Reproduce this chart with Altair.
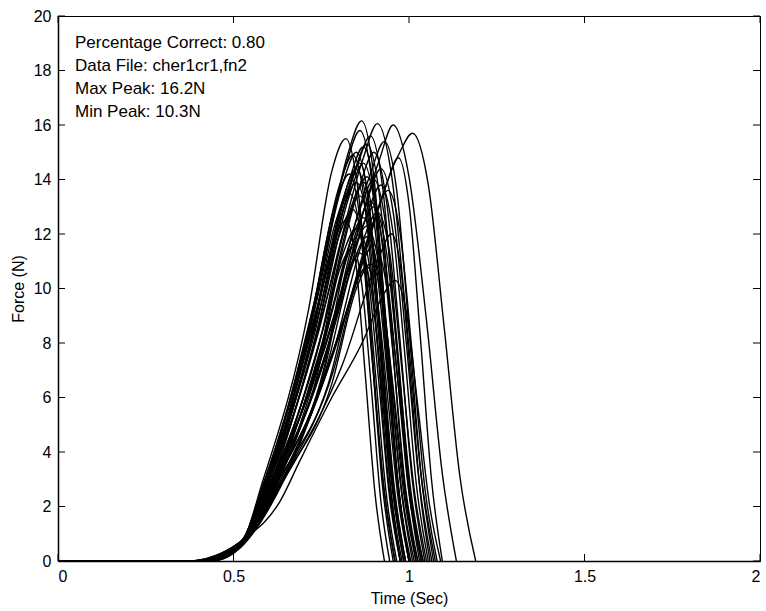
import altair as alt
import pandas as pd

# ---- text / axis content ----
X_TICKS = [0, 0.5, 1, 1.5, 2]
Y_TICKS = [0, 2, 4, 6, 8, 10, 12, 14, 16, 18, 20]
X_TITLE = "Time (Sec)"
Y_TITLE = "Force (N)"
INFO_LINES = [
    "Percentage Correct: 0.80",
    "Data File: cher1cr1,fn2",
    "Max Peak: 16.2N",
    "Min Peak: 10.3N",
]

# ---- force traces: (time s, force N) ----
trace_01 = [(0, 0), (0.40, 0), (0.52, 0.65), (0.585, 3.0), (0.715, 9.3), (0.78, 14.3), (0.82, 15.5), (0.855, 13.6), (0.89, 8.5), (0.925, 3.1), (0.96, 0)]
trace_02 = [(0, 0), (0.38, 0), (0.52, 0.6), (0.60, 3.0), (0.74, 9.7), (0.825, 14.9), (0.865, 16.15), (0.899, 14.2), (0.933, 8.9), (0.966, 3.2), (1.0, 0)]
trace_03 = [(0, 0), (0.40, 0), (0.52, 0.6), (0.61, 3.0), (0.765, 9.6), (0.87, 14.8), (0.91, 16.05), (0.951, 14.1), (0.993, 8.8), (1.034, 3.2), (1.075, 0)]
trace_04 = [(0, 0), (0.42, 0), (0.52, 0.6), (0.63, 3.0), (0.80, 9.6), (0.915, 14.7), (0.955, 16.0), (1.0, 14.1), (1.05, 8.8), (1.095, 3.2), (1.135, 0)]
trace_05 = [(0, 0), (0.43, 0), (0.52, 0.55), (0.64, 3.0), (0.83, 9.4), (0.97, 14.9), (1.01, 15.7), (1.055, 13.8), (1.10, 8.6), (1.145, 3.1), (1.19, 0)]
trace_06 = [(0, 0), (0.39, 0), (0.52, 0.65), (0.595, 3.0), (0.73, 9.5), (0.82, 14.5), (0.86, 15.8), (0.895, 13.9), (0.93, 8.7), (0.965, 3.2), (1.0, 0)]
trace_07 = [(0, 0), (0.41, 0), (0.52, 0.6), (0.605, 3.0), (0.745, 9.2), (0.84, 14.1), (0.88, 15.3), (0.915, 13.5), (0.95, 8.4), (0.985, 3.1), (1.02, 0)]
trace_08 = [(0, 0), (0.37, 0), (0.52, 0.7), (0.59, 3.0), (0.72, 8.9), (0.80, 13.7), (0.84, 14.9), (0.874, 13.1), (0.908, 8.2), (0.941, 3.0), (0.975, 0)]
trace_09 = [(0, 0), (0.40, 0), (0.52, 0.65), (0.61, 3.0), (0.745, 8.8), (0.83, 13.4), (0.87, 14.6), (0.905, 12.8), (0.94, 8.0), (0.975, 2.9), (1.01, 0)]
trace_10 = [(0, 0), (0.42, 0), (0.52, 0.6), (0.62, 3.0), (0.765, 9.0), (0.86, 13.8), (0.90, 15.0), (0.936, 13.2), (0.973, 8.3), (1.009, 3.0), (1.045, 0)]
trace_11 = [(0, 0), (0.38, 0), (0.52, 0.7), (0.59, 3.0), (0.715, 8.5), (0.79, 13.1), (0.83, 14.2), (0.861, 12.5), (0.893, 7.8), (0.924, 2.8), (0.955, 0)]
trace_12 = [(0, 0), (0.40, 0), (0.52, 0.65), (0.60, 3.0), (0.73, 8.3), (0.81, 12.8), (0.85, 13.9), (0.884, 12.2), (0.918, 7.6), (0.951, 2.8), (0.985, 0)]
trace_13 = [(0, 0), (0.41, 0), (0.52, 0.6), (0.615, 3.0), (0.755, 8.5), (0.84, 13.0), (0.88, 14.1), (0.916, 12.4), (0.953, 7.8), (0.989, 2.8), (1.025, 0)]
trace_14 = [(0, 0), (0.43, 0), (0.52, 0.55), (0.63, 3.0), (0.785, 8.6), (0.88, 13.2), (0.92, 14.4), (0.956, 12.7), (0.993, 7.9), (1.029, 2.9), (1.065, 0)]
trace_15 = [(0, 0), (0.39, 0), (0.52, 0.65), (0.61, 3.0), (0.745, 8.0), (0.82, 12.3), (0.86, 13.4), (0.893, 11.8), (0.925, 7.4), (0.958, 2.7), (0.99, 0)]
trace_16 = [(0, 0), (0.42, 0), (0.52, 0.6), (0.625, 3.0), (0.77, 7.9), (0.85, 12.1), (0.89, 13.2), (0.926, 11.6), (0.963, 7.3), (0.999, 2.6), (1.035, 0)]
trace_17 = [(0, 0), (0.38, 0), (0.52, 0.7), (0.60, 3.0), (0.725, 7.7), (0.80, 11.9), (0.84, 12.9), (0.871, 11.4), (0.903, 7.1), (0.934, 2.6), (0.965, 0)]
trace_18 = [(0, 0), (0.40, 0), (0.52, 0.65), (0.615, 3.0), (0.75, 7.6), (0.83, 11.6), (0.87, 12.6), (0.904, 11.1), (0.938, 6.9), (0.971, 2.5), (1.005, 0)]
trace_19 = [(0, 0), (0.43, 0), (0.52, 0.55), (0.635, 3.0), (0.785, 7.7), (0.87, 11.8), (0.91, 12.8), (0.945, 11.3), (0.98, 7.0), (1.015, 2.6), (1.05, 0)]
trace_20 = [(0, 0), (0.39, 0), (0.52, 0.65), (0.61, 3.0), (0.74, 7.3), (0.81, 11.2), (0.85, 12.2), (0.881, 10.7), (0.913, 6.7), (0.944, 2.4), (0.975, 0)]
trace_21 = [(0, 0), (0.41, 0), (0.52, 0.6), (0.625, 3.0), (0.765, 7.1), (0.84, 10.9), (0.88, 11.9), (0.914, 10.5), (0.948, 6.5), (0.981, 2.4), (1.015, 0)]
trace_22 = [(0, 0), (0.42, 0), (0.52, 0.6), (0.64, 3.0), (0.785, 7.0), (0.86, 10.7), (0.90, 11.6), (0.935, 10.2), (0.97, 6.4), (1.005, 2.3), (1.04, 0)]
trace_23 = [(0, 0), (0.40, 0), (0.52, 0.65), (0.62, 3.0), (0.755, 6.8), (0.82, 10.4), (0.86, 11.3), (0.893, 9.9), (0.925, 6.2), (0.958, 2.3), (0.99, 0)]
trace_24 = [(0, 0), (0.41, 0), (0.52, 0.6), (0.64, 3.0), (0.78, 6.5), (0.85, 10.0), (0.89, 10.9), (0.924, 9.6), (0.958, 6.0), (0.991, 2.2), (1.025, 0)]
trace_25 = [(0, 0), (0.42, 0), (0.528, 0.77), (0.633, 2.2), (0.69, 3.7), (0.776, 5.9), (0.87, 8.1), (0.92, 9.6), (0.96, 10.3), (0.993, 9.1), (1.025, 5.7), (1.058, 2.1), (1.09, 0)]
trace_26 = [(0, 0), (0.43, 0), (0.52, 0.55), (0.64, 3.0), (0.80, 8.2), (0.90, 12.5), (0.94, 13.6), (0.975, 12.0), (1.01, 7.5), (1.045, 2.7), (1.08, 0)]
trace_27 = [(0, 0), (0.44, 0), (0.52, 0.5), (0.645, 3.0), (0.815, 8.9), (0.93, 13.6), (0.97, 14.8), (1.001, 13.0), (1.033, 8.1), (1.064, 3.0), (1.095, 0)]
trace_28 = [(0, 0), (0.42, 0), (0.52, 0.55), (0.625, 3.0), (0.78, 9.2), (0.89, 14.2), (0.93, 15.4), (0.965, 13.6), (1.0, 8.5), (1.035, 3.1), (1.07, 0)]
trace_29 = [(0, 0), (0.38, 0), (0.52, 0.7), (0.595, 3.0), (0.72, 8.1), (0.79, 12.4), (0.83, 13.5), (0.863, 11.9), (0.895, 7.4), (0.928, 2.7), (0.96, 0)]
trace_30 = [(0, 0), (0.40, 0), (0.52, 0.65), (0.605, 3.0), (0.74, 8.3), (0.83, 12.8), (0.87, 13.9), (0.903, 12.2), (0.935, 7.6), (0.968, 2.8), (1.0, 0)]
trace_31 = [(0, 0), (0.41, 0), (0.52, 0.6), (0.62, 3.0), (0.765, 8.4), (0.86, 12.9), (0.90, 14.0), (0.934, 12.3), (0.968, 7.7), (1.001, 2.8), (1.035, 0)]
trace_32 = [(0, 0), (0.39, 0), (0.52, 0.65), (0.595, 3.0), (0.725, 9.0), (0.81, 13.8), (0.85, 15.0), (0.884, 13.2), (0.918, 8.3), (0.951, 3.0), (0.985, 0)]
trace_33 = [(0, 0), (0.41, 0), (0.52, 0.6), (0.62, 3.0), (0.76, 7.4), (0.84, 11.3), (0.88, 12.3), (0.915, 10.8), (0.95, 6.8), (0.985, 2.5), (1.02, 0)]
trace_34 = [(0, 0), (0.44, 0), (0.52, 0.5), (0.645, 3.0), (0.81, 7.2), (0.91, 11.0), (0.95, 12.0), (0.978, 10.6), (1.005, 6.6), (1.033, 2.4), (1.06, 0)]
trace_35 = [(0, 0), (0.39, 0), (0.52, 0.65), (0.61, 3.0), (0.74, 6.9), (0.80, 10.6), (0.84, 11.5), (0.866, 10.1), (0.893, 6.3), (0.919, 2.3), (0.945, 0)]
trace_36 = [(0, 0), (0.41, 0), (0.52, 0.6), (0.60, 3.0), (0.74, 9.4), (0.85, 14.4), (0.89, 15.6), (0.925, 13.7), (0.96, 8.6), (0.995, 3.1), (1.03, 0)]
trace_37 = [(0, 0), (0.37, 0), (0.52, 0.7), (0.59, 3.0), (0.71, 7.5), (0.78, 11.5), (0.82, 12.5), (0.848, 11.0), (0.875, 6.9), (0.903, 2.5), (0.93, 0)]
trace_38 = [(0, 0), (0.38, 0), (0.52, 0.65), (0.60, 3.0), (0.73, 8.8), (0.82, 13.4), (0.86, 14.6), (0.889, 12.8), (0.918, 8.0), (0.946, 2.9), (0.975, 0)]
trace_39 = [(0, 0), (0.39, 0), (0.52, 0.65), (0.60, 3.0), (0.735, 9.1), (0.83, 14.0), (0.87, 15.2), (0.903, 13.4), (0.935, 8.4), (0.968, 3.0), (1.0, 0)]
trace_40 = [(0, 0), (0.41, 0), (0.52, 0.6), (0.615, 3.0), (0.76, 7.8), (0.86, 12.0), (0.90, 13.0), (0.935, 11.4), (0.97, 7.2), (1.005, 2.6), (1.04, 0)]
trace_41 = [(0, 0), (0.40, 0), (0.52, 0.65), (0.625, 3.0), (0.76, 7.2), (0.82, 11.0), (0.86, 12.0), (0.89, 10.6), (0.92, 6.6), (0.95, 2.4), (0.98, 0)]
trace_42 = [(0, 0), (0.42, 0), (0.52, 0.6), (0.63, 3.0), (0.78, 8.3), (0.88, 12.7), (0.92, 13.8), (0.954, 12.1), (0.988, 7.6), (1.021, 2.8), (1.055, 0)]
trace_43 = [(0, 0), (0.39, 0), (0.52, 0.65), (0.60, 3.0), (0.73, 8.6), (0.81, 13.2), (0.85, 14.4), (0.885, 12.7), (0.92, 7.9), (0.955, 2.9), (0.99, 0)]
trace_44 = [(0, 0), (0.41, 0), (0.52, 0.6), (0.63, 3.0), (0.77, 6.5), (0.84, 9.9), (0.88, 10.8), (0.91, 9.5), (0.94, 5.9), (0.97, 2.2), (1.0, 0)]

TRACES = [
    trace_01, trace_02, trace_03, trace_04, trace_05, trace_06, trace_07, trace_08,
    trace_09, trace_10, trace_11, trace_12, trace_13, trace_14, trace_15, trace_16,
    trace_17, trace_18, trace_19, trace_20, trace_21, trace_22, trace_23, trace_24,
    trace_25, trace_26, trace_27, trace_28, trace_29, trace_30, trace_31, trace_32,
    trace_33, trace_34, trace_35, trace_36, trace_37, trace_38, trace_39, trace_40,
    trace_41, trace_42, trace_43, trace_44,
]

rows = []
for i, tr in enumerate(TRACES):
    for t, f in tr:
        rows.append({"trial": i, "t": t, "f": f})
df = pd.DataFrame(rows)

W, H = 702, 545
FONT = "Liberation Sans"
TICK = 7

xscale = alt.Scale(domain=[0, 2], nice=False)
yscale = alt.Scale(domain=[0, 20], nice=False)

lines = alt.Chart(df).mark_line(
    interpolate="monotone", color="black", strokeWidth=1.4, clip=True
).encode(
    x=alt.X("t:Q", scale=xscale,
            axis=alt.Axis(values=X_TICKS, format="~g", title=X_TITLE,
                          ticks=False, labelPadding=7, titlePadding=6)),
    y=alt.Y("f:Q", scale=yscale,
            axis=alt.Axis(values=Y_TICKS, title=Y_TITLE, ticks=False,
                          labelPadding=7, titlePadding=7)),
    detail="trial:N",
)

xt = pd.DataFrame({"v": X_TICKS})
yt = pd.DataFrame({"v": Y_TICKS})

bottom_ticks = alt.Chart(xt).mark_rule(color="black", strokeWidth=1).encode(
    x=alt.X("v:Q", scale=xscale), y=alt.value(H), y2=alt.value(H - TICK))
top_ticks = alt.Chart(xt).mark_rule(color="black", strokeWidth=1).encode(
    x=alt.X("v:Q", scale=xscale), y=alt.value(0), y2=alt.value(TICK))
left_ticks = alt.Chart(yt).mark_rule(color="black", strokeWidth=1).encode(
    y=alt.Y("v:Q", scale=yscale), x=alt.value(0), x2=alt.value(TICK))
right_ticks = alt.Chart(yt).mark_rule(color="black", strokeWidth=1).encode(
    y=alt.Y("v:Q", scale=yscale), x=alt.value(W), x2=alt.value(W - TICK))

info = alt.Chart(pd.DataFrame({"k": [0]})).mark_text(
    align="left", baseline="alphabetic", font=FONT, fontSize=17,
    lineHeight=23, color="black"
).encode(x=alt.value(17), y=alt.value(32), text=alt.value(INFO_LINES))

chart = alt.layer(
    lines, bottom_ticks, top_ticks, left_ticks, right_ticks, info
).properties(
    width=W, height=H,
    padding={"left": 58, "top": 16, "right": 6, "bottom": 50},
    autosize=alt.AutoSizeParams(type="none"),
    background="white",
).configure_view(
    stroke="black", strokeWidth=1
).configure_axis(
    labelFont=FONT, titleFont=FONT, labelFontSize=16, titleFontSize=16,
    titleFontWeight="normal", labelColor="black", titleColor="black",
    domainColor="black", domainWidth=1.5, grid=False,
)

chart.save("out.html", embed_options={"renderer": "svg", "actions": False})
